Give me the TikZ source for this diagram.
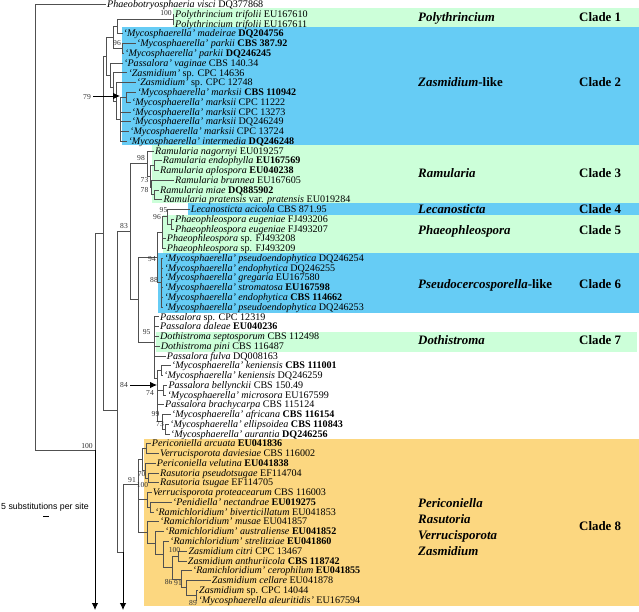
\documentclass[tikz,border=0pt]{standalone}
\usepackage{fontspec}
\setmainfont{Liberation Serif}
\newfontfamily\sansf{Liberation Sans}
\usetikzlibrary{arrows.meta}
\definecolor{cgreen}{RGB}{204,255,217}
\definecolor{cblue}{RGB}{102,204,245}
\definecolor{corange}{RGB}{252,215,128}
\definecolor{treeline}{RGB}{80,80,80}
\newcommand\Myc[1]{\textit{`Mycosphaerella' #1}}
\newcommand\Ram[1]{\textit{`Ramichloridium' #1}}
\begin{document}
\begin{tikzpicture}[x=1pt,y=-1pt,
  tx/.style={anchor=west, inner xsep=1pt, inner ysep=0pt, text height=6.4pt, text depth=0pt, font=\fontsize{10.1}{11}\selectfont},
  sup/.style={inner sep=0pt, text=black!80, font=\fontsize{7.6}{8}\selectfont},
  glab/.style={anchor=west, inner sep=0pt, text height=8.4pt, text depth=0pt, font=\fontsize{12.9}{14}\selectfont\bfseries\itshape},
  clab/.style={anchor=west, inner sep=0pt, text height=8.4pt, text depth=0pt, font=\fontsize{12.9}{14}\selectfont\bfseries},
  arr/.style={draw=black, line width=0.8pt, -{Latex[length=7pt,width=6.5pt]}}]
\useasboundingbox (0,0) rectangle (639,612);
% ---- clade bands
\fill[cgreen] (173,8) rectangle (639,27);
\fill[cblue] (122,27) rectangle (639,145);
\fill[cgreen] (152,145) rectangle (639,203);
\fill[cblue] (188,203) rectangle (639,215);
\fill[cgreen] (163,215) rectangle (639,253);
\fill[cblue] (157.5,253) rectangle (639,313);
\fill[cgreen] (156,332) rectangle (637,352);
\fill[corange] (144,439) rectangle (639,606);
% ---- clade labels
\node[glab] (g1) at (418,17) {Polythrincium};
\node[clab] (c1) at (579,17) {Clade 1};
\node[glab] (g2) at (418,82.7) {Zasmidium\textup{-like}};
\node[clab] (c2) at (579,82.7) {Clade 2};
\node[glab] (g3) at (418,173.3) {Ramularia};
\node[clab] (c3) at (579,173.3) {Clade 3};
\node[glab] (g4) at (418,209.3) {Lecanosticta};
\node[clab] (c4) at (579,209.3) {Clade 4};
\node[glab] (g5) at (418,230.7) {Phaeophleospora};
\node[clab] (c5) at (579,230.7) {Clade 5};
\node[glab] (g6) at (418,284) {Pseudocercosporella\textup{-like}};
\node[clab] (c6) at (579,284) {Clade 6};
\node[glab] (g7) at (418,340.7) {Dothistroma};
\node[clab] (c7) at (579,340.7) {Clade 7};
\node[glab] (g8a) at (418,503.3) {Periconiella};
\node[glab] (g8b) at (418,519.3) {Rasutoria};
\node[glab] (g8c) at (418,535.3) {Verrucisporota};
\node[glab] (g8d) at (418,551) {Zasmidium};
\node[clab] (c8) at (579,526.7) {Clade 8};
% ---- taxa
\node[tx] (t0) at (106,4.5) {\textit{Phaeobotryosphaeria visci} DQ377868};
\node[tx] (t1) at (174,14.26) {\textit{Polythrincium trifolii} EU167610};
\node[tx] (t2) at (174,24.02) {\textit{Polythrincium trifolii} EU167611};
\node[tx] (t3) at (122.5,33.78) {\Myc{madeirae} \textbf{DQ204756}};
\node[tx] (t4) at (135.7,43.54) {\Myc{parkii} \textbf{CBS 387.92}};
\node[tx] (t5) at (124,53.3) {\Myc{parkii} \textbf{DQ246245}};
\node[tx] (t6) at (123,63.06) {\textit{`Passalora' vaginae} CBS 140.34};
\node[tx] (t7) at (127.3,72.82) {\textit{`Zasmidium'} sp. CPC 14636};
\node[tx] (t8) at (135.7,82.58) {\textit{`Zasmidium'} sp. CPC 12748};
\node[tx] (t9) at (136.3,92.34) {\Myc{marksii} \textbf{CBS 110942}};
\node[tx] (t10) at (130.7,102.1) {\Myc{marksii} CPC 11222};
\node[tx] (t11) at (130.7,111.86) {\Myc{marksii} CPC 13273};
\node[tx] (t12) at (130.7,121.62) {\Myc{marksii} DQ246249};
\node[tx] (t13) at (129,131.38) {\Myc{marksii} CPC 13724};
\node[tx] (t14) at (127.3,141.14) {\Myc{intermedia} \textbf{DQ246248}};
\node[tx] (t15) at (154,150.9) {\textit{Ramularia nagornyi} EU019257};
\node[tx] (t16) at (161.7,160.66) {\textit{Ramularia endophylla} \textbf{EU167569}};
\node[tx] (t17) at (159,170.42) {\textit{Ramularia aplospora} \textbf{EU040238}};
\node[tx] (t18) at (174,180.18) {\textit{Ramularia brunnea} EU167605};
\node[tx] (t19) at (159,189.94) {\textit{Ramularia miae} \textbf{DQ885902}};
\node[tx] (t20) at (162.3,199.7) {\textit{Ramularia pratensis} var. \textit{pratensis} EU019284};
\node[tx] (t21) at (189.7,209.46) {\textit{Lecanosticta acicola} CBS 871.95};
\node[tx] (t22) at (174,219.22) {\textit{Phaeophleospora eugeniae} FJ493206};
\node[tx] (t23) at (174,228.98) {\textit{Phaeophleospora eugeniae} FJ493207};
\node[tx] (t24) at (165.7,238.74) {\textit{Phaeophleospora} sp. FJ493208};
\node[tx] (t25) at (165.7,248.5) {\textit{Phaeophleospora} sp. FJ493209};
\node[tx] (t26) at (163.3,258.26) {\Myc{pseudoendophytica} DQ246254};
\node[tx] (t27) at (163.3,268.02) {\Myc{endophytica} DQ246255};
\node[tx] (t28) at (163.3,277.78) {\Myc{gregaria} EU167580};
\node[tx] (t29) at (163.3,287.54) {\Myc{stromatosa} \textbf{EU167598}};
\node[tx] (t30) at (163.3,297.3) {\Myc{endophytica} \textbf{CBS 114662}};
\node[tx] (t31) at (163.3,307.06) {\Myc{pseudoendophytica} DQ246253};
\node[tx] (t32) at (159,316.82) {\textit{Passalora} sp. CPC 12319};
\node[tx] (t33) at (159,326.58) {\textit{Passalora daleae} \textbf{EU040236}};
\node[tx] (t34) at (159,336.34) {\textit{Dothistroma septosporum} CBS 112498};
\node[tx] (t35) at (159.7,346.1) {\textit{Dothistroma pini} CBS 116487};
\node[tx] (t36) at (165.7,355.86) {\textit{Passalora fulva} DQ008163};
\node[tx] (t37) at (170.7,365.62) {\Myc{keniensis} \textbf{CBS 111001}};
\node[tx] (t38) at (163,375.38) {\Myc{keniensis} DQ246259};
\node[tx] (t39) at (167.3,385.14) {\textit{Passalora bellynckii} CBS 150.49};
\node[tx] (t40) at (166.3,394.9) {\Myc{microsora} EU167599};
\node[tx] (t41) at (164,404.66) {\textit{Passalora brachycarpa} CBS 115124};
\node[tx] (t42) at (170.7,414.42) {\Myc{africana} \textbf{CBS 116154}};
\node[tx] (t43) at (169,424.18) {\Myc{ellipsoidea} \textbf{CBS 110843}};
\node[tx] (t44) at (169.7,433.94) {\Myc{aurantia} \textbf{DQ246256}};
\node[tx] (t45) at (150.7,443.7) {\textit{Periconiella arcuata} \textbf{EU041836}};
\node[tx] (t46) at (159,453.46) {\textit{Verrucisporota daviesiae} CBS 116002};
\node[tx] (t47) at (155.7,463.22) {\textit{Periconiella velutina} \textbf{EU041838}};
\node[tx] (t48) at (159,472.98) {\textit{Rasutoria pseudotsugae} EF114704};
\node[tx] (t49) at (159,482.74) {\textit{Rasutoria tsugae} EF114705};
\node[tx] (t50) at (151.7,492.5) {\textit{Verrucisporota proteacearum} CBS 116003};
\node[tx] (t51) at (171.7,502.26) {\textit{`Penidiella' nectandrae} \textbf{EU019275}};
\node[tx] (t52) at (154,512.02) {\Ram{biverticillatum} EU041853};
\node[tx] (t53) at (159,521.78) {\Ram{musae} EU041857};
\node[tx] (t54) at (164,531.54) {\Ram{australiense} \textbf{EU041852}};
\node[tx] (t55) at (169,541.3) {\Ram{strelitziae} \textbf{EU041860}};
\node[tx] (t56) at (187.3,551.06) {\textit{Zasmidium citri} CPC 13467};
\node[tx] (t57) at (186.7,560.82) {\textit{Zasmidium anthuriicola} \textbf{CBS 118742}};
\node[tx] (t58) at (191.7,570.58) {\Ram{cerophilum} \textbf{EU041855}};
\node[tx] (t59) at (210.7,580.34) {\textit{Zasmidium cellare} EU041878};
\node[tx] (t60) at (198,590.1) {\textit{Zasmidium} sp. CPC 14044};
\node[tx] (t61) at (197.3,599.86) {\textit{`Mycosphaerella aleuritidis'} EU167594};
% ---- internal nodes
\coordinate (root) at (35,227);
\coordinate (Pin) at (95,450);
\coordinate (Pend) at (95,610);
\coordinate (Q) at (103,233);
\coordinate (Rin) at (117,410);
\coordinate (Uin) at (123,552);
\coordinate (Uend) at (123,610);
\coordinate (S) at (130,231.8);
\coordinate (Nc) at (106,56.2);
\coordinate (Nb) at (113,37.44);
\coordinate (Na) at (117,26.46);
\coordinate (Ppoly) at (173,19.14);
\coordinate (Npark) at (122,48.42);
\coordinate (Nzt) at (110,74.96);
\coordinate (Nzs) at (113,86.85);
\coordinate (Nz) at (116,100.88);
\coordinate (Nmb) at (120,119.18);
\coordinate (Nma) at (126,97.22);
\coordinate (Nram) at (147,163.71);
\coordinate (Nrin) at (150,176.52);
\coordinate (Nrendo) at (154,165.54);
\coordinate (Nrs) at (151.5,187.5);
\coordinate (Nrmp) at (154,194.82);
\coordinate (V) at (138,299.8);
\coordinate (Nnf) at (157,257.65);
\coordinate (Nns) at (162,232.64);
\coordinate (Nnfa) at (167,216.78);
\coordinate (Neug) at (171,224.1);
\coordinate (Nee) at (161,282.66);
\coordinate (Nnfb) at (154,342);
\coordinate (Nefin) at (157,378);
\coordinate (Nken) at (161,370.5);
\coordinate (Nsf) at (163,390.02);
\coordinate (Nnn) at (162,421.74);
\coordinate (Nst) at (165,429.06);
\coordinate (Nnoin) at (138,484);
\coordinate (Npv) at (142,459.56);
\coordinate (Nper) at (146,448.58);
\coordinate (Nso) at (145,470.54);
\coordinate (Nrasu) at (148,477.86);
\coordinate (Npen) at (147,499.82);
\coordinate (Npb) at (150,507.14);
\coordinate (La) at (147,532.38);
\coordinate (Lb) at (155,542.98);
\coordinate (Lc) at (163,554.42);
\coordinate (Nes) at (172,567.53);
\coordinate (Nzc) at (178,555.94);
\coordinate (Nno) at (181,579.12);
\coordinate (Nen) at (186,587.66);
\coordinate (Nzsp) at (196,594.98);
\coordinate (A79s) at (93,96);
\coordinate (A79e) at (120,96);
\coordinate (A84s) at (130,385);
\coordinate (A84e) at (157,385);
% ---- branches
\begin{scope}[draw=treeline, line width=0.65pt]
\draw (root) |- (t0.west); \draw (root) |- (Pin);
\draw (Pin) |- (Q);
\draw (Q) |- (Nc); \draw (Q) |- (Rin);
\draw (Rin) |- (S); \draw (Rin) |- (Uin);
\draw (Uin) |- (Nnoin);
\draw (Nc) |- (Nb); \draw (Nc) |- (Nzt);
\draw (Nb) |- (Na); \draw (Nb) |- (Npark);
\draw (Na) |- (Ppoly); \draw (Na) |- (t3.west);
\draw (Ppoly) |- (t1.west); \draw (Ppoly) |- (t2.west);
\draw (Npark) |- (t4.west); \draw (Npark) |- (t5.west);
\draw (Nzt) |- (t6.west); \draw (Nzt) |- (Nzs);
\draw (Nzs) |- (t7.west); \draw (Nzs) |- (Nz);
\draw (Nz) |- (t8.west); \draw (Nz) |- (Nmb);
\draw (Nmb) |- (Nma);
\draw (Nmb) |- (t11.west); \draw (Nmb) |- (t12.west); \draw (Nmb) |- (t13.west); \draw (Nmb) |- (t14.west);
\draw (Nma) |- (t9.west); \draw (Nma) |- (t10.west);
\draw (S) |- (Nram); \draw (S) |- (V);
\draw (Nram) |- (t15.west); \draw (Nram) |- (Nrin);
\draw (Nrin) |- (Nrendo); \draw (Nrin) |- (Nrs);
\draw (Nrendo) |- (t16.west); \draw (Nrendo) |- (t17.west);
\draw (Nrs) |- (t18.west); \draw (Nrs) |- (Nrmp);
\draw (Nrmp) |- (t19.west); \draw (Nrmp) |- (t20.west);
\draw (V) |- (Nnf); \draw (V) |- (Nnfb);
\draw (Nnf) |- (Nns); \draw (Nnf) |- (Nee);
\draw (Nns) |- (Nnfa); \draw (Nns) |- (t24.west); \draw (Nns) |- (t25.west);
\draw (Nnfa) |- (t21.west); \draw (Nnfa) |- (Neug);
\draw (Neug) |- (t22.west); \draw (Neug) |- (t23.west);
\draw (Nee) |- (t26.west); \draw (Nee) |- (t27.west); \draw (Nee) |- (t28.west);
\draw (Nee) |- (t29.west); \draw (Nee) |- (t30.west); \draw (Nee) |- (t31.west);
\draw (Nnfb) |- (t32.west); \draw (Nnfb) |- (t33.west); \draw (Nnfb) |- (t34.west);
\draw (Nnfb) |- (t35.west); \draw (Nnfb) |- (t36.west); \draw (Nnfb) |- (Nefin);
\draw (Nefin) |- (Nken); \draw (Nefin) |- (Nsf); \draw (Nefin) |- (t41.west); \draw (Nefin) |- (Nnn);
\draw (Nken) |- (t37.west); \draw (Nken) |- (t38.west);
\draw (Nsf) |- (t39.west); \draw (Nsf) |- (t40.west);
\draw (Nnn) |- (t42.west); \draw (Nnn) |- (Nst);
\draw (Nst) |- (t43.west); \draw (Nst) |- (t44.west);
\draw (Nnoin) |- (Npv); \draw (Nnoin) |- (Npen); \draw (Nnoin) |- (La);
\draw (Npv) |- (Nper); \draw (Npv) |- (Nso);
\draw (Nper) |- (t45.west); \draw (Nper) |- (t46.west);
\draw (Nso) |- (t47.west); \draw (Nso) |- (Nrasu);
\draw (Nrasu) |- (t48.west); \draw (Nrasu) |- (t49.west);
\draw (Npen) |- (t50.west); \draw (Npen) |- (Npb);
\draw (Npb) |- (t51.west); \draw (Npb) |- (t52.west);
\draw (La) |- (t53.west); \draw (La) |- (Lb);
\draw (Lb) |- (t54.west); \draw (Lb) |- (Lc);
\draw (Lc) |- (t55.west); \draw (Lc) |- (Nes);
\draw (Nes) |- (Nzc); \draw (Nes) |- (Nno);
\draw (Nzc) |- (t56.west); \draw (Nzc) |- (t57.west);
\draw (Nno) |- (t58.west); \draw (Nno) |- (Nen);
\draw (Nen) |- (t59.west); \draw (Nen) |- (Nzsp);
\draw (Nzsp) |- (t60.west); \draw (Nzsp) |- (t61.west);
\end{scope}
% ---- arrows
\draw[arr] (Pin) -- (Pend);
\draw[arr] (Uin) -- (Uend);
\draw[arr] (A79s) -- (A79e);
\draw[arr] (A84s) -- (A84e);
% ---- support values
\node[sup] (s1) at (166,13) {100};
\node[sup] (s2) at (117,43.5) {96};
\node[sup] (s3) at (87,97) {79};
\node[sup] (s4) at (141,158) {98};
\node[sup] (s5) at (144.5,180) {73};
\node[sup] (s6) at (144.5,190) {78};
\node[sup] (s7) at (163.5,210) {95};
\node[sup] (s8) at (157,217) {96};
\node[sup] (s9) at (124,226) {83};
\node[sup] (s10) at (152,259) {94};
\node[sup] (s11) at (154,280) {88};
\node[sup] (s12) at (146.7,332) {95};
\node[sup] (s13) at (124,385) {84};
\node[sup] (s14) at (150,393) {74};
\node[sup] (s15) at (155.5,414) {99};
\node[sup] (s16) at (160,424.3) {73};
\node[sup] (s17) at (87,446) {100};
\node[sup] (s18) at (141.7,474) {70};
\node[sup] (s19) at (132,480) {91};
\node[sup] (s20) at (142.5,485) {100};
\node[sup] (s21) at (174.5,550) {100};
\node[sup] (s22) at (168.7,582) {86};
\node[sup] (s23) at (178,583.3) {91};
\node[sup] (s24) at (193,603.3) {89};
% ---- scale
\node[anchor=west, inner sep=0pt, font=\sansf\fontsize{8.8}{10}\selectfont] (scl) at (1,507) {5 substitutions per site};
\coordinate (sba) at (43,516);
\coordinate (sbb) at (48.5,516);
\draw[line width=0.6pt] (sba) -- (sbb);
\end{tikzpicture}
\end{document}
